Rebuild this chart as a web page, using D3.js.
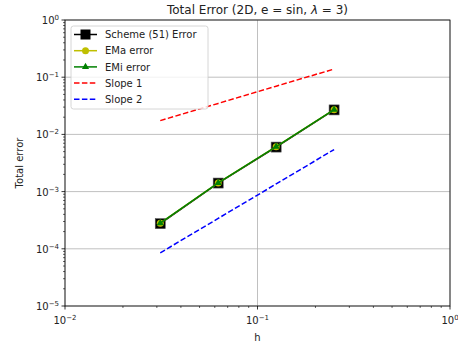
<!DOCTYPE html>
<html>
<head>
<meta charset="utf-8">
<script src="https://cdn.jsdelivr.net/npm/d3@7"></script>
<style>
  body { margin: 0; background: #fff; }
  svg { font-family: "DejaVu Sans", sans-serif; }
</style>
</head>
<body>
<svg id="chart" width="458" height="349"></svg>
<script>
// Data
const hValues = [0.03125, 0.0625, 0.125, 0.25];
const schemeError = [0.000275, 0.00141, 0.0060, 0.0268];
const emaError = [0.000280, 0.00142, 0.0061, 0.0270];
const emiError = [0.000280, 0.00142, 0.0061, 0.0270];
const slope1 = [0.0174, 0.0348, 0.0696, 0.139];
const slope2 = [0.0000850, 0.00034, 0.00136, 0.00544];
const xTicks = [-2, -1, 0];
const yTicks = [-5, -4, -3, -2, -1, 0];

const svg = d3.select('#chart');
const margin = {left: 65, right: 8, top: 20, bottom: 43};
const W = 458, H = 349;
const iw = W - margin.left - margin.right;
const ih = H - margin.top - margin.bottom;

const g = svg.append('g').attr('transform', `translate(${margin.left},${margin.top})`);

const x = d3.scaleLog().domain([1e-2, 1]).range([0, iw]);
const y = d3.scaleLog().domain([1e-5, 1]).range([ih, 0]);

// grid
g.selectAll('line.gx').data(xTicks).join('line')
  .attr('x1', d => x(10 ** d)).attr('x2', d => x(10 ** d))
  .attr('y1', 0).attr('y2', ih)
  .attr('stroke', '#b0b0b0').attr('stroke-width', 0.8);
g.selectAll('line.gy').data(yTicks).join('line')
  .attr('y1', d => y(10 ** d)).attr('y2', d => y(10 ** d))
  .attr('x1', 0).attr('x2', iw)
  .attr('stroke', '#b0b0b0').attr('stroke-width', 0.8);

// minor ticks
const minorX = [], minorY = [];
for (let e = -2; e < 0; e++) for (let m = 2; m <= 9; m++) minorX.push(m * 10 ** e);
for (let e = -5; e < 0; e++) for (let m = 2; m <= 9; m++) minorY.push(m * 10 ** e);
g.selectAll('line.mx').data(minorX).join('line')
  .attr('x1', d => x(d)).attr('x2', d => x(d)).attr('y1', ih).attr('y2', ih + 2)
  .attr('stroke', '#000').attr('stroke-width', 0.6);
g.selectAll('line.my').data(minorY).join('line')
  .attr('y1', d => y(d)).attr('y2', d => y(d)).attr('x1', 0).attr('x2', -2)
  .attr('stroke', '#000').attr('stroke-width', 0.6);

// major ticks + labels
const supLabel = (sel, e) => {
  sel.append('tspan').text('10');
  sel.append('tspan').attr('font-size', 7).attr('dy', -4).text(e < 0 ? '\u2212' + (-e) : e);
};
yTicks.forEach(e => {
  const yy = y(10 ** e);
  g.append('line').attr('x1', -3.5).attr('x2', 0).attr('y1', yy).attr('y2', yy)
    .attr('stroke', '#000').attr('stroke-width', 0.8);
  const t = g.append('text').attr('x', -6).attr('y', yy + 4).attr('text-anchor', 'end')
    .attr('font-size', 10).attr('fill', '#222');
  supLabel(t, e);
});
xTicks.forEach(e => {
  const xx = x(10 ** e);
  g.append('line').attr('x1', xx).attr('x2', xx).attr('y1', ih).attr('y2', ih + 3.5)
    .attr('stroke', '#000').attr('stroke-width', 0.8);
  const t = g.append('text').attr('x', xx).attr('y', ih + 18).attr('text-anchor', 'middle')
    .attr('font-size', 10).attr('fill', '#222');
  supLabel(t, e);
});

// frame
g.append('rect').attr('width', iw).attr('height', ih)
  .attr('fill', 'none').attr('stroke', '#000').attr('stroke-width', 0.8);

const line = d3.line().x(d => x(d[0])).y(d => y(d[1]));
const pts = arr => hValues.map((h, i) => [h, arr[i]]);

// slopes
g.append('path').attr('d', line(pts(slope1))).attr('fill', 'none')
  .attr('stroke', '#ff0000').attr('stroke-width', 1.5).attr('stroke-dasharray', '5.5,2.4');
g.append('path').attr('d', line(pts(slope2))).attr('fill', 'none')
  .attr('stroke', '#0000ff').attr('stroke-width', 1.5).attr('stroke-dasharray', '5.5,2.4');

// scheme
g.append('path').attr('d', line(pts(schemeError))).attr('fill', 'none')
  .attr('stroke', '#000').attr('stroke-width', 1.5);
g.selectAll('rect.sq').data(pts(schemeError)).join('rect')
  .attr('x', d => x(d[0]) - 5).attr('y', d => y(d[1]) - 5)
  .attr('width', 10).attr('height', 10).attr('fill', '#000').attr('stroke', '#555').attr('stroke-width', 0.6);

// EMa
g.append('path').attr('d', line(pts(emaError))).attr('fill', 'none')
  .attr('stroke', '#bfbf00').attr('stroke-width', 1.5);
g.selectAll('circle.ma').data(pts(emaError)).join('circle')
  .attr('cx', d => x(d[0])).attr('cy', d => y(d[1])).attr('r', 3.5).attr('fill', '#bfbf00');

// EMi
g.append('path').attr('d', line(pts(emiError))).attr('fill', 'none')
  .attr('stroke', '#008000').attr('stroke-width', 1.5);
const tri = d3.symbol().type(d3.symbolTriangle).size(22);
g.selectAll('path.mi').data(pts(emiError)).join('path')
  .attr('transform', d => `translate(${x(d[0])},${y(d[1])})`)
  .attr('d', tri).attr('fill', '#008000');

// title & labels
svg.append('text').attr('x', margin.left + iw / 2).attr('y', 14).attr('text-anchor', 'middle')
  .attr('font-size', 12).attr('fill', '#222')
  .html('Total Error (2D, e = sin, <tspan font-style="italic">λ</tspan> = 3)');
svg.append('text').attr('x', margin.left + iw / 2).attr('y', 341).attr('text-anchor', 'middle')
  .attr('font-size', 10).attr('fill', '#222').text('h');
svg.append('text').attr('transform', `translate(23,${margin.top + ih / 2}) rotate(-90)`)
  .attr('text-anchor', 'middle').attr('font-size', 10).attr('fill', '#222').text('Total error');

// legend
const legendItems = [
  {label: 'Scheme (51) Error', color: '#000', marker: 'square', dash: null},
  {label: 'EMa error', color: '#bfbf00', marker: 'circle', dash: null},
  {label: 'EMi error', color: '#008000', marker: 'triangle', dash: null},
  {label: 'Slope 1', color: '#ff0000', marker: null, dash: '5.5,2.4'},
  {label: 'Slope 2', color: '#0000ff', marker: null, dash: '5.5,2.4'}
];
const lg = svg.append('g').attr('transform', 'translate(71,26)');
lg.append('rect').attr('width', 137).attr('height', 83).attr('rx', 2.5)
  .attr('fill', 'rgba(255,255,255,0.8)').attr('stroke', '#cccccc').attr('stroke-width', 0.8);
legendItems.forEach((it, i) => {
  const cy = 8.5 + i * 16.2;
  const r = lg.append('g').attr('transform', `translate(0,${cy})`);
  const ln = r.append('line').attr('x1', 3).attr('x2', 26).attr('y1', 0).attr('y2', 0)
    .attr('stroke', it.color).attr('stroke-width', 1.5);
  if (it.dash) ln.attr('stroke-dasharray', it.dash);
  if (it.marker === 'square') r.append('rect').attr('x', 9.5).attr('y', -5).attr('width', 10).attr('height', 10).attr('fill', '#000');
  if (it.marker === 'circle') r.append('circle').attr('cx', 14.5).attr('cy', 0).attr('r', 3.5).attr('fill', it.color);
  if (it.marker === 'triangle') r.append('path').attr('transform', 'translate(14.5,0)').attr('d', tri).attr('fill', it.color);
  r.append('text').attr('x', 34).attr('y', 3.6).attr('font-size', 10).attr('fill', '#222').text(it.label);
});
</script>
</body>
</html>
